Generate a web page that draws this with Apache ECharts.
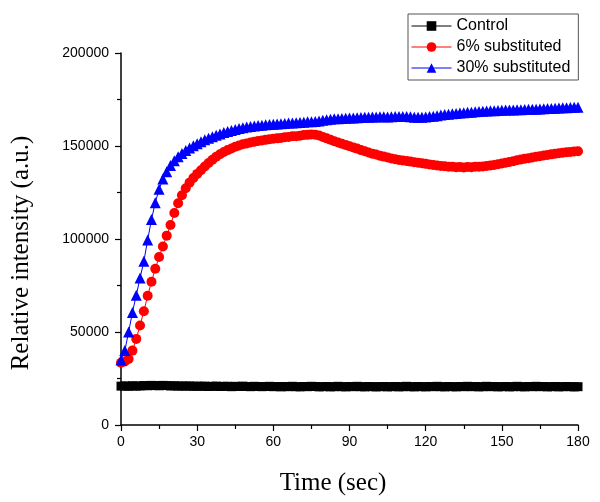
<!DOCTYPE html>
<html>
<head>
<meta charset="utf-8">
<script src="https://cdn.jsdelivr.net/npm/echarts@6/dist/echarts.min.js"></script>
<style>
html,body{margin:0;padding:0;background:#fff;}
#chart{width:600px;height:502px;}
</style>
</head>
<body>
<div id="chart"></div>
<script>
const seriesNames = ["Control", "6% substituted", "30% substituted"];
const xTicks = [0, 30, 60, 90, 120, 150, 180];
const yTicks = [0, 50000, 100000, 150000, 200000];

const timeSec = [
0,1.5,3,4.5,6,7.5,9,10.5,12,13.5,15,16.5,18,19.5,21,22.5,24,25.5,27,28.5,
30,31.5,33,34.5,36,37.5,39,40.5,42,43.5,45,46.5,48,49.5,51,52.5,54,55.5,57,58.5,
60,61.5,63,64.5,66,67.5,69,70.5,72,73.5,75,76.5,78,79.5,81,82.5,84,85.5,87,88.5,
90,91.5,93,94.5,96,97.5,99,100.5,102,103.5,105,106.5,108,109.5,111,112.5,114,115.5,117,118.5,
120,121.5,123,124.5,126,127.5,129,130.5,132,133.5,135,136.5,138,139.5,141,142.5,144,145.5,147,148.5,
150,151.5,153,154.5,156,157.5,159,160.5,162,163.5,165,166.5,168,169.5,171,172.5,174,175.5,177,178.5,180];

const controlValues = [
20900,21000,20800,21100,20900,21000,21200,21100,21300,21200,21100,21300,21200,21000,21100,20900,21000,20900,21000,20800,
20900,20800,20900,20700,20800,20900,20700,20800,20800,20600,20800,20700,20900,20700,20600,20800,20700,20600,20700,20800,
20600,20700,20500,20700,20600,20800,20600,20500,20700,20600,20800,20700,20500,20600,20700,20500,20600,20800,20600,20500,
20700,20600,20800,20600,20500,20700,20600,20500,20600,20700,20500,20600,20700,20500,20600,20800,20600,20500,20700,20600,
20500,20700,20600,20800,20600,20500,20700,20600,20500,20700,20600,20800,20600,20700,20500,20600,20800,20600,20700,20500,
20600,20700,20500,20600,20800,20600,20500,20700,20600,20800,20600,20700,20500,20600,20700,20500,20600,20700,20600,20500,20600];

const red6Values = [
33500,34200,35500,40000,46300,53500,61200,69500,77000,84000,90300,96000,101800,107500,114000,119200,123500,127300,130300,132800,
135000,137000,139000,140900,142600,144200,145600,146800,147800,148700,149600,150300,150900,151400,151900,152300,152700,153000,153300,153600,
153900,154100,154300,154700,154800,155200,155300,155500,155900,156000,156200,156100,155700,154900,154100,153400,152600,151900,151200,150600,
149900,149200,148600,147800,147200,146500,145900,145400,144800,144300,143800,143300,142900,142500,142200,141900,141600,141300,141000,140700,
140400,140100,139800,139500,139300,139100,138900,138800,138600,138700,138500,138700,138600,138800,138900,139000,139200,139500,139800,140200,
140600,141000,141400,141800,142300,142700,143100,143400,143800,144200,144500,144900,145200,145500,145800,146100,146400,146600,146800,147000,147200];

const blue30Values = [
35000,40000,50000,60500,69700,79000,88000,99500,110500,119500,126800,132200,136200,139500,142100,144200,146000,147600,148900,150100,
151200,152300,153300,154200,155000,155800,156500,157200,157800,158400,158900,159400,159800,160200,160500,160800,161000,161200,161400,161500,
161700,161800,162000,162100,162300,162400,162500,162700,162800,163000,163100,163200,163500,163800,164100,164400,164600,164700,164800,164900,
165000,165100,165200,165300,165400,165500,165600,165600,165700,165700,165600,165700,165800,165900,165900,165800,165700,165500,165400,165500,
165600,165800,166000,166300,166600,166900,167100,167300,167500,167700,167900,168100,168200,168400,168600,168700,168800,168900,169000,169100,
169200,169300,169300,169400,169500,169500,169600,169700,169800,169800,169900,170000,170100,170200,170300,170400,170500,170600,170700,170800,170900];

function pairs(vals){ return timeSec.map((t,i)=>[t, vals[i]]); }

const chart = echarts.init(document.getElementById('chart'), null, {renderer:'canvas'});
const sansFont = "'Liberation Sans', Arial, sans-serif";
const serifFont = "'Liberation Serif', 'Times New Roman', serif";

const option = {
  animation: false,
  backgroundColor: '#ffffff',
  grid: {left: 121, right: 22, top: 53, bottom: 77, containLabel: false},
  legend: {
    orient: 'vertical',
    left: 408, top: 14,
    padding: [4, 8, 4, 3],
    itemWidth: 40, itemHeight: 12, itemGap: 5,
    borderColor: '#555', borderWidth: 1,
    lineStyle: {width: 1},
    textStyle: {fontFamily: sansFont, fontSize: 16, color: '#000'},
    data: seriesNames
  },
  xAxis: {
    type: 'value', min: xTicks[0], max: xTicks[xTicks.length-1], interval: 30,
    axisLine: {show: true, lineStyle: {color: '#000', width: 1.5}},
    axisTick: {show: true, length: 6, lineStyle: {color: '#000', width: 1.2}},
    minorTick: {show: true, splitNumber: 2, length: 4, lineStyle: {color: '#000', width: 1.2}},
    splitLine: {show: false},
    axisLabel: {fontFamily: sansFont, fontSize: 14, color: '#000', margin: 10},
  },
  yAxis: {
    type: 'value', min: yTicks[0], max: yTicks[yTicks.length-1], interval: 50000,
    axisLine: {show: true, lineStyle: {color: '#000', width: 1.5}},
    axisTick: {show: true, length: 6, lineStyle: {color: '#000', width: 1.2}},
    minorTick: {show: true, splitNumber: 2, length: 4, lineStyle: {color: '#000', width: 1.2}},
    splitLine: {show: false},
    axisLabel: {fontFamily: sansFont, fontSize: 14, color: '#000', margin: 12,
      formatter: function(v){ return String(v); }},
  },
  graphic: [
    {type: 'text', x: 333, y: 483, silent: true,
     style: {text: 'Time (sec)', font: '25px ' + serifFont, fill: '#000', align: 'center', verticalAlign: 'middle'}},
    {type: 'text', x: 21, y: 253, rotation: Math.PI/2, silent: true,
     style: {text: 'Relative intensity (a.u.)', font: '25px ' + serifFont, fill: '#000', align: 'center', verticalAlign: 'middle'}}
  ],
  series: [
    {name: seriesNames[0], type: 'line', data: pairs(controlValues), symbol: 'rect', symbolSize: 9, showAllSymbol: true,
     itemStyle: {color: '#000'}, lineStyle: {color: '#000', width: 1}},
    {name: seriesNames[1], type: 'line', data: pairs(red6Values), symbol: 'circle', symbolSize: 10, showAllSymbol: true,
     itemStyle: {color: '#ff0000'}, lineStyle: {color: '#ff0000', width: 1}},
    {name: seriesNames[2], type: 'line', data: pairs(blue30Values), symbol: 'triangle', symbolSize: 11, showAllSymbol: true,
     itemStyle: {color: '#0000ff'}, lineStyle: {color: '#0000ff', width: 1}}
  ]
};
chart.setOption(option);
</script>
</body>
</html>
